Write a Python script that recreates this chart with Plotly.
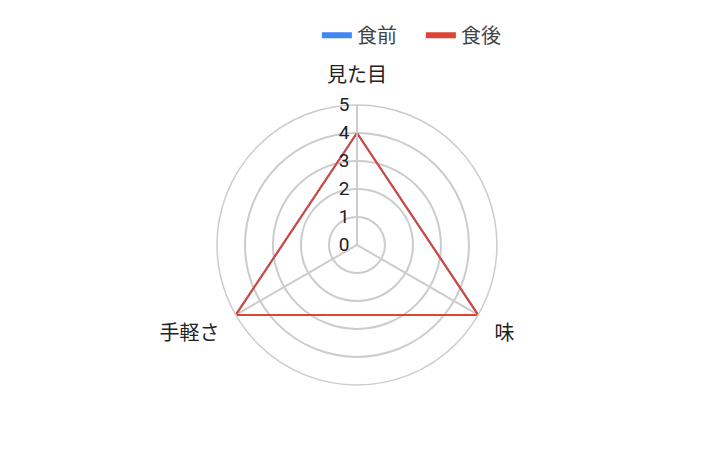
import plotly.graph_objects as go

# axes of the radar (clockwise from the top)
categories = ['見た目', '味', '手軽さ']
before = [4, 5, 5]   # 食前
after = [4, 5, 5]    # 食後
radial_ticks = [0, 1, 2, 3, 4, 5]
series = [('食前', before, '#4285F4'), ('食後', after, '#DB4437')]

fig = go.Figure()
for name, vals, color in series:
    fig.add_trace(go.Scatterpolar(r=vals + vals[:1], theta=categories + categories[:1],
                                  mode='lines', name=name, showlegend=False,
                                  line=dict(color=color, width=2)))
# legend entries with thick short bars
for name, vals, color in series:
    fig.add_trace(go.Scatterpolar(r=[None], theta=[categories[0]], mode='lines',
                                  name=name, line=dict(color=color, width=6)))

fig.update_layout(
    width=715, height=454,
    margin=dict(l=0, r=0, t=0, b=0),
    paper_bgcolor='white',
    font=dict(family='Roboto, "Noto Sans CJK JP", sans-serif', size=18, color='#222'),
    showlegend=True,
    legend=dict(orientation='h', x=0.432, xanchor='left', y=0.94, yanchor='middle',
                font=dict(size=20, color='#444'), entrywidth=59),
    polar=dict(
        domain=dict(x=[0.2923, 0.6838], y=[0.1696, 0.7866]),
        bgcolor='white',
        radialaxis=dict(range=[0, 5], tickvals=radial_ticks, angle=90, tickangle=90,
                        showline=True, linecolor='#ccc', linewidth=1.5,
                        gridcolor='#ccc', gridwidth=1.5, ticks='',
                        tickfont=dict(size=19, color='#222'),
                        side='counterclockwise'),
        angularaxis=dict(rotation=90, direction='clockwise', gridcolor='#ccc', gridwidth=1.5,
                         linecolor='#ccc', linewidth=1.5, showline=True,
                         ticks='outside', ticklen=14, tickcolor='rgba(0,0,0,0)',
                         tickfont=dict(size=20, color='#222')),
        gridshape='circular',
    ),
)

fig.write_html("out.html")
